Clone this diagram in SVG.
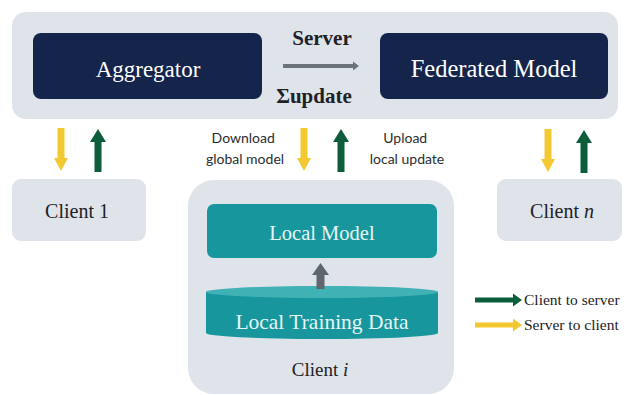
<svg xmlns="http://www.w3.org/2000/svg" width="628" height="395" viewBox="0 0 628 395">
  <defs>
    <style>
      .panel { fill: #dfe3ea; }
      .navy { fill: #14244b; }
      .teal { fill: #17979d; }
      .serif { font-family: "Liberation Serif", "Times New Roman", serif; }
      .sans { font-family: Lato, "Open Sans", "DejaVu Sans", sans-serif; }
      .white { fill: #ffffff; }
      .ink { fill: #1e2226; }
      .up { fill: #0d5c3b; }
      .down { fill: #f3c932; }
    </style>
    <!-- vertical block arrows, drawn pointing up / down around origin -->
    <path id="arrowUp" d="M-3.5,0 L-3.5,-30 L-8,-30 L0,-43 L8,-30 L3.5,-30 L3.5,0 Z"/>
    <path id="arrowDown" d="M-3.5,0 L-3.5,30 L-7,30 L0,43 L7,30 L3.5,30 L3.5,0 Z"/>
  </defs>

  <rect width="628" height="395" fill="#ffffff"/>

  <!-- Server -->
  <g id="server">
    <rect class="panel" x="12" y="12" width="606" height="107" rx="14"/>
    <text class="serif ink" x="322" y="45" font-size="21" font-weight="bold" text-anchor="middle">Server</text>
    <text class="serif ink" x="314" y="103" font-size="21" font-weight="bold" text-anchor="middle">Σupdate</text>
  </g>

  <g id="aggregator">
    <rect class="navy" x="33" y="33" width="229" height="66" rx="8"/>
    <text class="serif white" x="148" y="77" font-size="23" text-anchor="middle">Aggregator</text>
  </g>

  <g id="federated-model">
    <rect class="navy" x="380" y="33" width="228" height="66" rx="8"/>
    <text class="serif white" x="494" y="77" font-size="24.5" text-anchor="middle">Federated Model</text>
  </g>

  <!-- Clients -->
  <g id="client-1">
    <rect class="panel" x="12" y="179" width="134" height="62" rx="9"/>
    <text class="serif ink" x="77" y="218" font-size="20" text-anchor="middle">Client 1</text>
  </g>

  <g id="client-n">
    <rect class="panel" x="497" y="179" width="125" height="62" rx="9"/>
    <text class="serif ink" x="562" y="218" font-size="20" text-anchor="middle">Client <tspan font-style="italic">n</tspan></text>
  </g>

  <g id="client-i">
    <rect class="panel" x="188" y="180" width="266" height="214" rx="26"/>
    <text class="serif ink" x="320" y="376" font-size="19" text-anchor="middle">Client <tspan font-style="italic">i</tspan></text>
  </g>

  <g id="local-model">
    <rect class="teal" x="207" y="204" width="230" height="54" rx="7"/>
    <text class="serif" fill="#e6f6f6" x="322" y="240" font-size="20.5" text-anchor="middle">Local Model</text>
  </g>

  <g id="local-training-data">
    <path class="teal" d="M206,292 L206,333 A116,6 0 0 0 438,333 L438,292 Z"/>
    <ellipse cx="322" cy="292" rx="116" ry="6" fill="#40b2b5"/>
    <text class="serif" fill="#e6f6f6" x="322" y="329" font-size="21.5" text-anchor="middle">Local Training Data</text>
  </g>

  <!-- Connectors -->
  <g id="connectors">
    <!-- aggregator to federated model -->
    <path d="M283,64 L353,64 L353,61.5 L359,66 L353,70.5 L353,68 L283,68 Z" fill="#6d7479"/>
    <!-- training data to local model -->
    <path d="M316.5,289 L316.5,275 L312,275 L320.5,263 L329,275 L324.5,275 L324.5,289 Z" fill="#5f676c"/>

    <use href="#arrowDown" class="down" x="61" y="128"/>
    <use href="#arrowUp" class="up" x="98" y="172"/>
    <use href="#arrowDown" class="down" x="304" y="128"/>
    <use href="#arrowUp" class="up" x="341" y="172"/>
    <use href="#arrowDown" class="down" x="548" y="129"/>
    <use href="#arrowUp" class="up" x="584" y="173"/>

    <text class="sans" fill="#2a2d30" font-size="14" text-anchor="middle">
      <tspan x="245" y="143">Download</tspan>
      <tspan x="245" y="164">global model</tspan>
    </text>
    <text class="sans" fill="#2a2d30" font-size="14" text-anchor="middle">
      <tspan x="407" y="143">Upload</tspan>
      <tspan x="407" y="164">local update</tspan>
    </text>
  </g>

  <!-- Legend -->
  <g id="legend">
    <path class="up" d="M475,297.5 L513,297.5 L513,293.5 L522,300 L513,306.5 L513,302.5 L475,302.5 Z"/>
    <text class="serif ink" x="524" y="305" font-size="15.5">Client to server</text>
    <path class="down" d="M475,322.5 L513,322.5 L513,318.5 L522,325 L513,331.5 L513,327.5 L475,327.5 Z"/>
    <text class="serif ink" x="524" y="330" font-size="15.5">Server to client</text>
  </g>
</svg>
